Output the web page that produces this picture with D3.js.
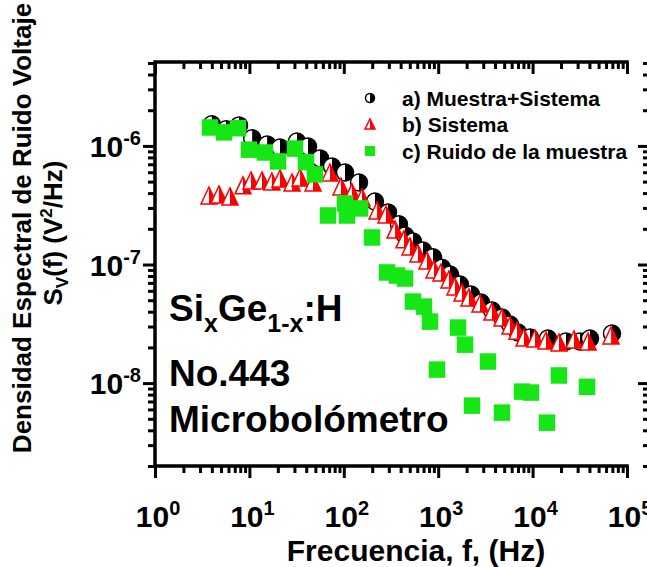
<!DOCTYPE html>
<html>
<head>
<meta charset="utf-8">
<script src="https://cdn.jsdelivr.net/npm/d3@7"></script>
<style>
  body { margin: 0; background: #fff; }
  svg text { font-family: "Liberation Sans", Arial, sans-serif; font-weight: bold; fill: #000; }
  .tick line { stroke: #000; stroke-width: 3; }
</style>
</head>
<body>
<div id="chart"></div>
<script>
// a) Muestra+Sistema
const freqMuestraSistema = [4.0, 5.65, 7.76, 10.7, 15.4, 21.1, 31.9, 41.8, 56, 75,
  103, 145, 214, 294, 384, 445, 541, 690, 881, 1097,
  1334, 1702, 2225, 2840, 3715, 4740, 5765, 7000, 9380, 14550,
  22590, 31770, 40550, 69340];
const valMuestraSistema = [1.52e-6, 1.38e-6, 1.49e-6, 1.16e-6, 1.03e-6, 9.7e-7, 1.09e-6, 9.9e-7, 7.85e-7, 6.71e-7,
  5.97e-7, 4.92e-7, 3.40e-7, 2.75e-7, 2.18e-7, 1.76e-7, 1.56e-7, 1.31e-7, 1.15e-7, 9.4e-8,
  8.24e-8, 6.78e-8, 5.58e-8, 4.78e-8, 4.09e-8, 3.57e-8, 3.12e-8, 2.67e-8, 2.42e-8, 2.38e-8,
  2.24e-8, 2.24e-8, 2.38e-8, 2.62e-8];

// b) Sistema
const freqSistema = [3.73, 4.76, 6.23, 8.55, 10.4, 13.6, 17.3, 21.1, 28.3, 34.4,
  47.2, 71.4, 93.4, 122, 156, 225, 280, 349, 434, 503,
  611, 761, 903, 1071, 1301, 1507, 1787, 2119, 2772, 3715,
  4740, 5765, 6840, 8110, 10600, 13870, 19040, 27470, 38650, 67760];
const valSistema = [3.82e-7, 3.90e-7, 3.75e-7, 4.65e-7, 5.12e-7, 5.12e-7, 5.01e-7, 5.32e-7, 4.92e-7, 5.42e-7,
  4.92e-7, 5.97e-7, 4.55e-7, 4.06e-7, 3.67e-7, 2.86e-7, 2.64e-7, 1.97e-7, 1.63e-7, 1.42e-7,
  1.24e-7, 1.08e-7, 9.08e-8, 8.56e-8, 7.47e-8, 6.52e-8, 5.80e-8, 5.27e-8, 4.69e-8, 4.01e-8,
  3.57e-8, 3.06e-8, 2.77e-8, 2.42e-8, 2.38e-8, 2.29e-8, 2.20e-8, 2.33e-8, 2.24e-8, 2.52e-8];

// c) Ruido de la muestra
const freqRuido = [3.83, 5.38, 7.57, 9.9, 14.6, 20.1, 30.4, 39.8, 49.5, 68,
  103, 108, 149, 199, 287, 366, 445, 541, 707, 819,
  971, 1622, 1923, 2280, 3370, 4740, 7720, 9610, 14200, 19000,
  37700];
const valRuido = [1.43e-6, 1.30e-6, 1.41e-6, 9.3e-7, 8.8e-7, 7.4e-7, 9.5e-7, 7.3e-7, 5.75e-7, 2.59e-7,
  3.27e-7, 2.59e-7, 2.97e-7, 1.69e-7, 8.57e-8, 8.07e-8, 7.62e-8, 4.87e-8, 4.42e-8, 3.30e-8,
  1.30e-8, 2.94e-8, 2.11e-8, 6.46e-9, 1.52e-8, 5.64e-9, 8.48e-9, 8.32e-9, 4.64e-9, 1.16e-8,
  9.3e-9];

const legendLabels = ["a) Muestra+Sistema", "b) Sistema", "c) Ruido de la muestra"];
const xTickExps = [0, 1, 2, 3, 4, 5];
const yTickExps = [-6, -7, -8];

const W = 647, H = 567;
const plot = { left: 155, right: 627, top: 62, bottom: 466 };

const svg = d3.select("#chart").append("svg")
  .attr("width", W)
  .attr("height", H);

const x = d3.scaleLog().domain([1, 1e5]).range([plot.left, plot.right]);
const y = d3.scaleLog().domain([2e-9, 5.1e-6]).range([plot.bottom, plot.top]);

const xMajor = xTickExps.map(e => Math.pow(10, e));
const yMajor = yTickExps.map(e => Math.pow(10, e));
const xMinor = x.ticks().filter(v => !xMajor.some(m => Math.abs(m - v) / m < 1e-9));
const yMinor = y.ticks().filter(v => !yMajor.some(m => Math.abs(m - v) / m < 1e-9));

function drawAxis(axis, tx, ty) {
  const g = svg.append("g")
    .attr("transform", `translate(${tx},${ty})`)
    .call(axis);
  g.select(".domain").remove();
  g.selectAll("text").remove();
  return g;
}

// ticks: bottom outward, top inward, left outward, right (off-canvas) inward
drawAxis(d3.axisBottom(x).tickValues(xMajor).tickSize(12), 0, plot.bottom);
drawAxis(d3.axisBottom(x).tickValues(xMinor).tickSize(7), 0, plot.bottom);
drawAxis(d3.axisTop(x).tickValues(xMajor).tickSize(-12), 0, plot.top);
drawAxis(d3.axisTop(x).tickValues(xMinor).tickSize(-7), 0, plot.top);
drawAxis(d3.axisLeft(y).tickValues(yMajor).tickSize(12), plot.left, 0);
drawAxis(d3.axisLeft(y).tickValues(yMinor).tickSize(7), plot.left, 0);
drawAxis(d3.axisRight(y).tickValues(yMajor).tickSize(-13), 651, 0);
drawAxis(d3.axisRight(y).tickValues(yMinor).tickSize(-8), 651, 0);

// frame lines
svg.append("path")
  .attr("d", `M${plot.left},${plot.top}H${plot.right}M${plot.left},${plot.bottom}H${plot.right}M${plot.left},${plot.top}V${plot.bottom}`)
  .attr("stroke", "#000")
  .attr("stroke-width", 3.5)
  .attr("fill", "none")
  .attr("stroke-linecap", "square");

// tick labels
const xLab = svg.append("g").selectAll("text")
  .data(xTickExps)
  .join("text")
  .attr("x", d => x(Math.pow(10, d)) + 3)
  .attr("y", 527)
  .attr("text-anchor", "middle")
  .style("font-size", "30px");
xLab.append("tspan").text("10");
xLab.append("tspan").attr("dy", -12).style("font-size", "20px").text(d => d);

const yLab = svg.append("g").selectAll("text")
  .data(yTickExps)
  .join("text")
  .attr("x", 141)
  .attr("y", d => y(Math.pow(10, d)) + 11)
  .attr("text-anchor", "end")
  .style("font-size", "30px");
yLab.append("tspan").text("10");
yLab.append("tspan").attr("dy", -12).style("font-size", "20px").text(d => d);

// axis titles
svg.append("text")
  .attr("x", 416)
  .attr("y", 561)
  .attr("text-anchor", "middle")
  .style("font-size", "30px")
  .text("Frecuencia, f, (Hz)");

svg.append("text")
  .attr("transform", "translate(31,228) rotate(-90)")
  .attr("text-anchor", "middle")
  .style("font-size", "26px")
  .text("Densidad Espectral de Ruido Voltaje");

const yt2 = svg.append("text")
  .attr("transform", "translate(62,233) rotate(-90)")
  .attr("text-anchor", "middle")
  .style("font-size", "26px");
yt2.append("tspan").text("S");
yt2.append("tspan").attr("dy", 6).style("font-size", "17px").text("V");
yt2.append("tspan").attr("dy", -6).text("(f) (V");
yt2.append("tspan").attr("dy", -10).style("font-size", "17px").text("2");
yt2.append("tspan").attr("dy", 10).text("/Hz)");

// markers
function circleHalf(g, cx, cy, r) {
  g.append("circle").attr("cx", cx).attr("cy", cy).attr("r", r)
    .attr("fill", "#fff").attr("stroke", "#000").attr("stroke-width", 1.5);
  g.append("path")
    .attr("d", `M${cx},${cy - r}A${r},${r} 0 0 1 ${cx},${cy + r}Z`)
    .attr("fill", "#000");
}
function triHalf(g, cx, cy, w, h) {
  g.append("path")
    .attr("d", `M${cx},${cy - h / 2}L${cx + w / 2},${cy + h / 2}L${cx - w / 2},${cy + h / 2}Z`)
    .attr("fill", "#fff").attr("stroke", "#ff0000").attr("stroke-width", 1.5);
  g.append("path")
    .attr("d", `M${cx},${cy - h / 2}L${cx + w / 2},${cy + h / 2}L${cx},${cy + h / 2}Z`)
    .attr("fill", "#ff0000");
}
function square(g, cx, cy, s) {
  g.append("rect").attr("x", cx - s / 2).attr("y", cy - s / 2)
    .attr("width", s).attr("height", s).attr("fill", "#16e616");
}

const gA = svg.append("g");
freqMuestraSistema.forEach((f, i) => circleHalf(gA, x(f), y(valMuestraSistema[i]), 8.5));
const gB = svg.append("g");
freqSistema.forEach((f, i) => triHalf(gB, x(f), y(valSistema[i]), 16, 17));
const gC = svg.append("g");
freqRuido.forEach((f, i) => square(gC, x(f), y(valRuido[i]), 16.5));

// legend
const legend = svg.append("g");
const legY = [98, 124, 151];
circleHalf(legend, 370, legY[0], 4.5);
triHalf(legend, 370, legY[1], 10, 10);
square(legend, 370, legY[2], 10);
legend.selectAll("text")
  .data(legendLabels)
  .join("text")
  .attr("x", 402)
  .attr("y", (d, i) => legY[i] + 7.5)
  .style("font-size", "21px")
  .text(d => d);

// annotations
const ann = svg.append("g").style("font-size", "37px");
const a1 = ann.append("text").attr("x", 169).attr("y", 321);
a1.append("tspan").text("Si");
a1.append("tspan").attr("dy", 11).style("font-size", "25px").text("x");
a1.append("tspan").attr("dy", -11).text("Ge");
a1.append("tspan").attr("dy", 11).style("font-size", "25px").text("1-x");
a1.append("tspan").attr("dy", -11).text(":H");
ann.append("text").attr("x", 169).attr("y", 386).text("No.443");
ann.append("text").attr("x", 169).attr("y", 432).text("Microbolómetro");
</script>
</body>
</html>
